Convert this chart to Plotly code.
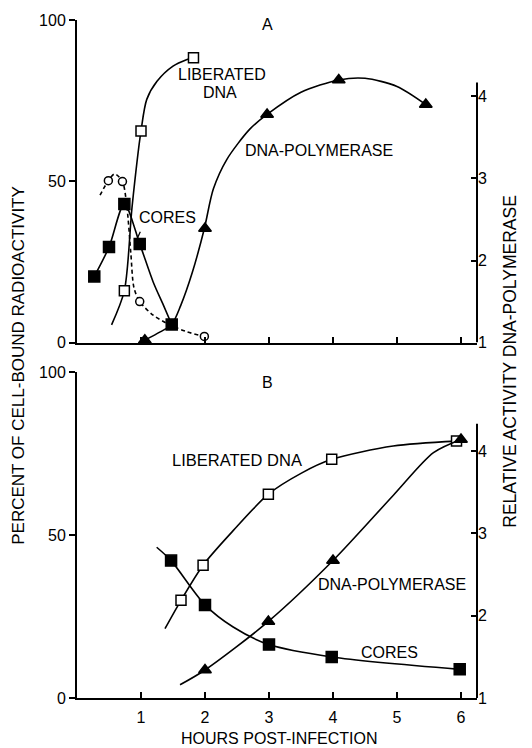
import plotly.graph_objects as go

# ---------------- data ----------------
# Panel A markers
a_cores_x = [0.27, 0.5, 0.74, 0.98, 1.48]
a_cores_y = [20.5, 29.6, 43, 30.6, 5.6]
a_circ_x = [0.49, 0.71, 0.98, 1.99]
a_circ_y = [50.2, 49.9, 12.7, 1.9]
a_lib_x = [0.74, 1.0, 1.82]
a_lib_y = [16.1, 65.6, 88.3]
a_pol_x = [1.06, 2.0, 2.97, 4.09, 5.45]
a_pol_y = [1.03, 2.39, 3.78, 4.2, 3.9]

# Panel A hand-drawn curves
a_cores_cx = [0.27, 0.5, 0.74, 0.98, 1.19, 1.35, 1.48]
a_cores_cy = [20.5, 29.6, 43, 30.6, 18.8, 11.6, 5.6]
a_circ_cx = [0.36, 0.49, 0.59, 0.71, 0.78, 0.84, 0.89, 0.98, 1.19, 1.45, 1.71, 1.99]
a_circ_cy = [45.7, 50.2, 52.3, 49.9, 42, 28, 17, 12.7, 8.5, 5.5, 3.4, 1.9]
a_lib_cx = [0.54, 0.74, 0.86, 1.0, 1.09, 1.25, 1.5, 1.71, 1.82]
a_lib_cy = [5.5, 16.1, 42, 65.6, 75.4, 81, 85.7, 87.7, 88.3]
a_pol_cx = [1.06, 1.3, 1.48, 1.62, 1.8, 1.99, 2.13, 2.34, 2.7, 2.97, 3.5, 4.09, 4.5, 5.0, 5.45]
a_pol_cy = [1.03, 1.13, 1.22, 1.45, 1.85, 2.39, 2.87, 3.23, 3.6, 3.78, 4.05, 4.2, 4.22, 4.12, 3.9]

# Panel B markers
b_lib_x = [1.625, 1.97, 2.99, 3.98, 5.93]
b_lib_y = [30, 40.8, 62.6, 73.3, 78.9]
b_cores_x = [1.47, 2.0, 3.0, 3.98, 5.98]
b_cores_y = [42.2, 28.6, 16.4, 12.6, 8.8]
b_pol_x = [2.0, 2.99, 4.0, 6.0]
b_pol_y = [1.34, 1.93, 2.67, 4.14]

# Panel B hand-drawn curves
b_lib_cx = [1.375, 1.625, 1.97, 2.44, 2.99, 3.5, 3.98, 4.94, 5.93]
b_lib_cy = [21.3, 30, 40.8, 51.4, 62.6, 69, 73.3, 77.4, 78.9]
b_cores_cx = [1.245, 1.47, 2.0, 2.44, 3.0, 3.98, 5.98]
b_cores_cy = [46.3, 42.2, 28.6, 21.8, 16.4, 12.6, 8.8]
b_pol_cx = [1.61, 2.0, 2.99, 4.0, 4.94, 5.57, 6.0]
b_pol_cy = [1.16, 1.34, 1.93, 2.67, 3.46, 3.98, 4.14]

x_ticks = [1, 2, 3, 4, 5, 6]
left_ticks = [0, 50, 100]
right_ticks = [1, 2, 3, 4]

# ---------------- figure ----------------
FONT = "Liberation Sans, Arial, sans-serif"
K = "black"
fig = go.Figure()


def curve(x, y, xa, ya, dash="solid"):
    fig.add_trace(go.Scatter(x=x, y=y, xaxis=xa, yaxis=ya, mode="lines",
                             line=dict(color=K, width=1.6, dash=dash, shape="spline", smoothing=0.8),
                             hoverinfo="skip", showlegend=False))


def marks(x, y, xa, ya, symbol, size):
    fig.add_trace(go.Scatter(x=x, y=y, xaxis=xa, yaxis=ya, mode="markers",
                             marker=dict(symbol=symbol, size=size, color=K,
                                         line=dict(color=K, width=1.5)),
                             cliponaxis=False, showlegend=False))


# panel A
curve(a_cores_cx, a_cores_cy, "x", "y")
curve(a_circ_cx, a_circ_cy, "x", "y", dash="4px,3px")
curve(a_lib_cx, a_lib_cy, "x", "y")
curve(a_pol_cx, a_pol_cy, "x", "y2")
fig.add_trace(go.Scatter(x=a_circ_x, y=a_circ_y, xaxis="x", yaxis="y", mode="markers",
                         marker=dict(symbol="circle", size=8, color="white", line=dict(color=K, width=1.5)),
                         cliponaxis=False, showlegend=False))
fig.add_trace(go.Scatter(x=a_lib_x, y=a_lib_y, xaxis="x", yaxis="y", mode="markers",
                         marker=dict(symbol="square", size=10, color="white", line=dict(color=K, width=1.5)),
                         cliponaxis=False, showlegend=False))
marks(a_cores_x, a_cores_y, "x", "y", "square", 11)
marks(a_pol_x, a_pol_y, "x", "y2", "triangle-up", 11)

# panel B
curve(b_lib_cx, b_lib_cy, "x2", "y3")
curve(b_cores_cx, b_cores_cy, "x2", "y3")
curve(b_pol_cx, b_pol_cy, "x2", "y4")
fig.add_trace(go.Scatter(x=b_lib_x, y=b_lib_y, xaxis="x2", yaxis="y3", mode="markers",
                         marker=dict(symbol="square", size=10, color="white", line=dict(color=K, width=1.5)),
                         cliponaxis=False, showlegend=False))
marks(b_cores_x, b_cores_y, "x2", "y3", "square", 11)
marks(b_pol_x, b_pol_y, "x2", "y4", "triangle-up", 11)

domA = [0.5242, 1.0]
domB = [0.0, 0.4802]

xcommon = dict(range=[0, 6.25], showgrid=False, zeroline=False, showline=True, linecolor=K,
               linewidth=2, ticks="inside", ticklen=6, tickwidth=1.5, tickcolor=K,
               tickvals=x_ticks, tickfont=dict(family=FONT, size=16, color=K))
lcommon = dict(range=[0, 100], showgrid=False, zeroline=False, showline=True, linecolor=K,
               linewidth=2, ticks="outside", ticklen=6, tickwidth=1.5, tickcolor=K,
               tickvals=left_ticks, tickfont=dict(family=FONT, size=16, color=K))
rcommon = dict(showgrid=False, zeroline=False, showline=False, side="right",
               ticks="inside", ticklen=6, tickwidth=1.5, tickcolor=K, tickvals=right_ticks,
               tickfont=dict(family=FONT, size=16, color=K))

fig.update_layout(
    width=532, height=748,
    margin=dict(l=77, r=55, t=17, b=50),
    paper_bgcolor="white", plot_bgcolor="white",
    font=dict(family=FONT, color=K, size=16),
    xaxis=dict(domain=[0, 1], anchor="y", showticklabels=False, **xcommon),
    yaxis=dict(domain=domA, anchor="x", **lcommon),
    yaxis2=dict(overlaying="y", anchor="x", range=[1, 4.93], **rcommon),
    xaxis2=dict(domain=[0, 1], anchor="y3", showticklabels=True, ticklabelstandoff=4, **xcommon),
    yaxis3=dict(domain=domB, anchor="x2", **lcommon),
    yaxis4=dict(overlaying="y3", anchor="x2", range=[1, 4.955], **rcommon),
)

# right axis lines (shorter than the panels)
fig.add_shape(type="line", xref="paper", x0=1, x1=1, yref="y2", y0=1, y1=4.17,
              line=dict(color=K, width=2))
fig.add_shape(type="line", xref="paper", x0=1, x1=1, yref="y4", y0=1, y1=4.33,
              line=dict(color=K, width=2))


def label(text, x, y, xr, yr, size=16, angle=0):
    fig.add_annotation(text=text, x=x, y=y, xref=xr, yref=yr, showarrow=False,
                       xanchor="center", yanchor="middle", textangle=angle,
                       font=dict(family=FONT, size=size, color=K))


label("A", 2.98, 98.5, "x", "y")
label("LIBERATED", 2.27, 83.2, "x", "y")
label("DNA", 2.23, 77.6, "x", "y")
label("DNA-POLYMERASE", 3.78, 59.4, "x", "y")
label("CORES", 1.41, 38.9, "x", "y")
fig.add_annotation(x=0.93, y=31.8, xref="x", yref="y", ax=1.0, ay=34.8, axref="x", ayref="y",
                   text="", showarrow=True, arrowhead=0, arrowwidth=1.3, arrowcolor=K)

label("B", 2.98, 97, "x2", "y3")
label("LIBERATED DNA", 2.5, 73.1, "x2", "y3", size=16.5)
label("DNA-POLYMERASE", 4.92, 35, "x2", "y3")
label("CORES", 4.88, 14, "x2", "y3")

label("PERCENT OF CELL-BOUND RADIOACTIVITY", -0.145, 0.490, "paper", "paper", size=17, angle=-90)
label("RELATIVE ACTIVITY DNA-POLYMERASE", 1.0825, 0.496, "paper", "paper", size=17.5, angle=-90)
label("HOURS POST-INFECTION", 0.505, -0.0602, "paper", "paper", size=16)

fig.write_html("out.html")
